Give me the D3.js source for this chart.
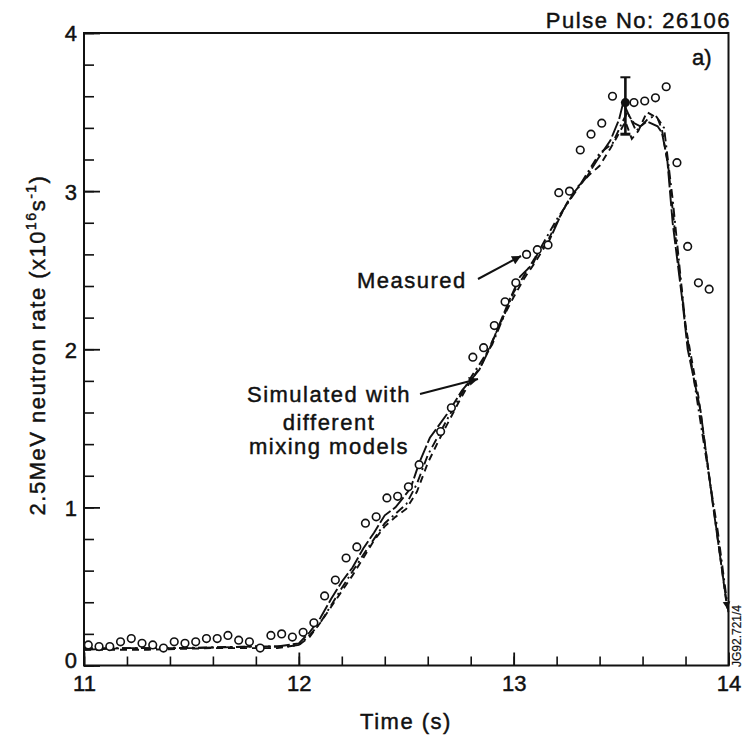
<!DOCTYPE html>
<html>
<head>
<meta charset="utf-8">
<script src="https://cdn.jsdelivr.net/npm/d3@7"></script>
<style>
  body { margin: 0; background: #fff; }
  svg text { font-family: "Liberation Sans", Arial, Helvetica, sans-serif; fill: #111; stroke: #111; stroke-width: 0.45px; }
</style>
</head>
<body>
<svg id="chart" width="747" height="737"></svg>
<script>
// measured neutron rate (open circles)
var measT = [11.02, 11.07, 11.12, 11.17, 11.22, 11.27, 11.32, 11.37, 11.42, 11.47,
             11.52, 11.57, 11.62, 11.67, 11.72, 11.77, 11.82, 11.87, 11.92, 11.97,
             12.02, 12.07, 12.12, 12.17, 12.22, 12.27, 12.31, 12.36, 12.41, 12.46,
             12.51, 12.56, 12.66, 12.71, 12.81, 12.86, 12.91, 12.96,
             13.01, 13.06, 13.11, 13.16, 13.21, 13.26, 13.31, 13.36, 13.41, 13.46,
             13.56, 13.61, 13.66, 13.71, 13.76, 13.81, 13.86, 13.91];
var measV = [0.13, 0.12, 0.12, 0.15, 0.17, 0.14, 0.13, 0.11, 0.15, 0.14,
             0.15, 0.17, 0.17, 0.19, 0.16, 0.15, 0.11, 0.19, 0.20, 0.18,
             0.21, 0.27, 0.44, 0.54, 0.68, 0.75, 0.90, 0.94, 1.06, 1.07,
             1.13, 1.27, 1.48, 1.63, 1.95, 2.01, 2.15, 2.30,
             2.42, 2.60, 2.63, 2.66, 2.99, 3.00, 3.26, 3.36, 3.43, 3.60,
             3.56, 3.57, 3.59, 3.66, 3.18, 2.65, 2.42, 2.38];

// error bar at the peak
var errT = 13.52;
var errV = [3.36, 3.56, 3.72];

// simulated curves, three mixing models
var simAT = [11.0, 11.2, 11.5, 11.8, 11.9, 12.0, 12.05, 12.1, 12.15, 12.2, 12.25, 12.3, 12.35, 12.4, 12.45,
             12.52, 12.56, 12.61, 12.69, 12.76, 12.84, 12.89, 12.94, 12.98, 13.03, 13.09, 13.12, 13.16,
             13.23, 13.28, 13.34, 13.39, 13.45, 13.49, 13.51, 13.54, 13.56, 13.59, 13.62, 13.67, 13.69,
             13.715, 13.74, 13.785, 13.81, 13.87, 13.925, 13.995];
var simAV = [0.10, 0.11, 0.11, 0.12, 0.12, 0.14, 0.21, 0.30, 0.42, 0.53, 0.62, 0.74, 0.84, 0.95, 1.00,
             1.12, 1.28, 1.44, 1.59, 1.74, 1.87, 2.01, 2.18, 2.31, 2.46, 2.54, 2.63, 2.67,
             2.88, 2.99, 3.09, 3.20, 3.32, 3.45, 3.56, 3.47, 3.43, 3.41, 3.44, 3.41, 3.37,
             3.20, 2.80, 2.31, 2.00, 1.61, 1.04, 0.36];

var simBT = [11.0, 11.3, 11.6, 11.9, 12.0, 12.05, 12.1, 12.15, 12.2, 12.25, 12.3, 12.35, 12.4, 12.45, 12.5,
             12.55, 12.6, 12.65, 12.7, 12.75, 12.8, 12.85, 12.9, 12.95, 13.0, 13.05, 13.1, 13.15, 13.2,
             13.25, 13.3, 13.35, 13.4, 13.45, 13.48, 13.52, 13.55, 13.58, 13.62, 13.67, 13.69, 13.72,
             13.75, 13.8, 13.86, 13.92, 13.99];
var simBV = [0.10, 0.10, 0.11, 0.11, 0.13, 0.18, 0.27, 0.37, 0.47, 0.57, 0.68, 0.79, 0.88, 0.94, 0.99,
             1.10, 1.28, 1.42, 1.55, 1.68, 1.80, 1.90, 2.05, 2.20, 2.33, 2.45, 2.55, 2.66, 2.80,
             2.93, 3.03, 3.10, 3.16, 3.27, 3.34, 3.44, 3.33, 3.38, 3.50, 3.46, 3.39, 3.15,
             2.75, 2.15, 1.70, 1.10, 0.40];

var simCT = [11.0, 11.4, 11.8, 11.95, 12.0, 12.05, 12.1, 12.2, 12.3, 12.4, 12.5, 12.55, 12.6, 12.7,
             12.8, 12.9, 13.0, 13.1, 13.2, 13.3, 13.4, 13.46, 13.5, 13.53, 13.57, 13.62, 13.66, 13.7,
             13.74, 13.8, 13.88, 13.95, 14.0];
var simCV = [0.11, 0.11, 0.12, 0.12, 0.13, 0.19, 0.27, 0.49, 0.70, 0.90, 1.02, 1.15, 1.33, 1.58,
             1.82, 2.03, 2.36, 2.58, 2.82, 3.02, 3.24, 3.30, 3.42, 3.50, 3.38, 3.45, 3.48, 3.40,
             2.95, 2.15, 1.45, 0.85, 0.33];

var xTicks = [11, 12, 13, 14];
var yTicks = [0, 1, 2, 3, 4];

var svg = d3.select("#chart");
var plotL = 84, plotR = 728.5, plotT = 33, plotB = 665.5;

var x = d3.scaleLinear().domain([11, 14]).range([plotL, plotR]);
var y = d3.scaleLinear().domain([0, 4]).range([plotB, plotT]);

// frame
svg.append("rect")
  .attr("x", plotL).attr("y", plotT)
  .attr("width", plotR - plotL).attr("height", plotB - plotT)
  .attr("fill", "none").attr("stroke", "#111").attr("stroke-width", 2);

// minor ticks, pointing inside
var xMinor = d3.range(11, 14.001, 0.2);
var yMinor = d3.range(0, 4.001, 0.2);

svg.append("g")
  .attr("transform", "translate(0," + plotB + ")")
  .call(d3.axisBottom(x).tickValues(xMinor).tickSizeInner(-9).tickSizeOuter(0).tickFormat(""))
  .call(function(g) { g.select(".domain").remove(); g.selectAll("line").attr("stroke", "#111").attr("stroke-width", 1.6); });

svg.append("g")
  .attr("transform", "translate(" + plotL + ",0)")
  .call(d3.axisLeft(y).tickValues(yMinor).tickSizeInner(-10).tickSizeOuter(0).tickFormat(""))
  .call(function(g) { g.select(".domain").remove(); g.selectAll("line").attr("stroke", "#111").attr("stroke-width", 1.6); });

// major ticks + labels
svg.append("g")
  .attr("transform", "translate(0," + plotB + ")")
  .call(d3.axisBottom(x).tickValues(xTicks).tickSizeInner(-13).tickSizeOuter(0).tickPadding(0).tickFormat(d3.format("d")))
  .call(function(g) {
    g.select(".domain").remove();
    g.selectAll("line").attr("stroke", "#111").attr("stroke-width", 1.8);
    g.selectAll("text").attr("y", 25.5).attr("dy", 0)
      .style("font-size", "22px").style("font-family", "'Liberation Sans', Arial, sans-serif").attr("fill", "#111");
  });

svg.append("g")
  .attr("transform", "translate(" + plotL + ",0)")
  .call(d3.axisLeft(y).tickValues(yTicks).tickSizeInner(-16).tickSizeOuter(0).tickPadding(7).tickFormat(d3.format("d")))
  .call(function(g) {
    g.select(".domain").remove();
    g.selectAll("line").attr("stroke", "#111").attr("stroke-width", 1.8);
    // the 0 label sits a little higher so it clears the 11 below it
    g.selectAll("text").attr("dy", "0.36em").attr("y", function(d) { return d === 0 ? -6 : 0; })
      .style("font-size", "22px").style("font-family", "'Liberation Sans', Arial, sans-serif").attr("fill", "#111");
  });

// simulated lines
function series(ts, vs) { return ts.map(function(t, i) { return [t, vs[i]]; }); }
var line = d3.line().x(function(d) { return x(d[0]); }).y(function(d) { return y(d[1]); });

var defs = svg.append("defs");
defs.append("marker")
  .attr("id", "endArrow").attr("viewBox", "0 0 10 10").attr("refX", 9).attr("refY", 5)
  .attr("markerWidth", 4).attr("markerHeight", 5).attr("orient", "auto")
  .append("path").attr("d", "M0,0 L10,5 L0,10 z").attr("fill", "#111");
defs.append("marker")
  .attr("id", "noteArrow").attr("viewBox", "0 0 10 10").attr("refX", 10).attr("refY", 5)
  .attr("markerWidth", 16).attr("markerHeight", 9).attr("orient", "auto").attr("markerUnits", "userSpaceOnUse")
  .append("path").attr("d", "M0,0 L10,5 L0,10 z").attr("fill", "#111");

var sims = [
  { pts: series(simBT, simBV), dash: "7,5" },
  { pts: series(simCT, simCV), dash: "9,4,2,4" },
  { pts: series(simAT, simAV), dash: "16,3" }
];
svg.append("g").selectAll("path").data(sims).enter().append("path")
  .attr("d", function(d) { return line(d.pts); })
  .attr("fill", "none").attr("stroke", "#111").attr("stroke-width", 1.9)
  .attr("stroke-dasharray", function(d) { return d.dash; })
  .attr("marker-end", function(d, i) { return i === 2 ? "url(#endArrow)" : null; });

// error bar
var eb = svg.append("g").attr("stroke", "#111");
eb.append("line").attr("x1", x(errT)).attr("x2", x(errT)).attr("y1", y(errV[0])).attr("y2", y(errV[2])).attr("stroke-width", 2.6);
eb.append("line").attr("x1", x(errT) - 5).attr("x2", x(errT) + 5).attr("y1", y(errV[2])).attr("y2", y(errV[2])).attr("stroke-width", 2);
eb.append("line").attr("x1", x(errT) - 5).attr("x2", x(errT) + 5).attr("y1", y(errV[0])).attr("y2", y(errV[0])).attr("stroke-width", 3);
svg.append("circle").attr("cx", x(errT)).attr("cy", y(errV[1])).attr("r", 4.5).attr("fill", "#111");

// measured points
svg.append("g").selectAll("circle").data(series(measT, measV)).enter().append("circle")
  .attr("cx", function(d) { return x(d[0]); })
  .attr("cy", function(d) { return y(d[1]); })
  .attr("r", 3.8).attr("fill", "#fff").attr("stroke", "#111").attr("stroke-width", 1.6);

// text
var lbl = "font-size:22px; letter-spacing:1.5px";
svg.append("text").attr("x", 731).attr("y", 28).attr("text-anchor", "end").attr("style", lbl).text("Pulse No: 26106");
svg.append("text").attr("x", 692).attr("y", 65).attr("style", "font-size:22px").text("a)");
svg.append("text").attr("x", 406).attr("y", 729).attr("text-anchor", "middle").attr("style", lbl).text("Time (s)");

var yl = svg.append("text").attr("transform", "translate(45,345) rotate(-90)").attr("text-anchor", "middle").attr("style", lbl);
yl.append("tspan").text("2.5MeV neutron rate (x10");
yl.append("tspan").attr("dy", -9).style("font-size", "14px").text("16");
yl.append("tspan").attr("dy", 9).text("s");
yl.append("tspan").attr("dy", -9).style("font-size", "14px").text("-1");
yl.append("tspan").attr("dy", 9).text(")");

svg.append("text").attr("x", 357).attr("y", 288).attr("style", lbl).text("Measured");
var sl = svg.append("text").attr("text-anchor", "middle").attr("style", lbl);
sl.append("tspan").attr("x", 329).attr("y", 402).text("Simulated with");
sl.append("tspan").attr("x", 329).attr("y", 430).text("different");
sl.append("tspan").attr("x", 329).attr("y", 454).text("mixing models");

// annotation arrows
svg.append("line").attr("x1", 478).attr("y1", 279).attr("x2", 521).attr("y2", 256)
  .attr("stroke", "#111").attr("stroke-width", 2).attr("marker-end", "url(#noteArrow)");
svg.append("line").attr("x1", 420).attr("y1", 394).attr("x2", 478).attr("y2", 379)
  .attr("stroke", "#111").attr("stroke-width", 2).attr("marker-end", "url(#noteArrow)");

// drawing number
svg.append("text").attr("transform", "translate(741,667) rotate(-90)")
  .attr("style", "font-size:12px; stroke-width:0.2px").text("JG92.721/4");
</script>
</body>
</html>
